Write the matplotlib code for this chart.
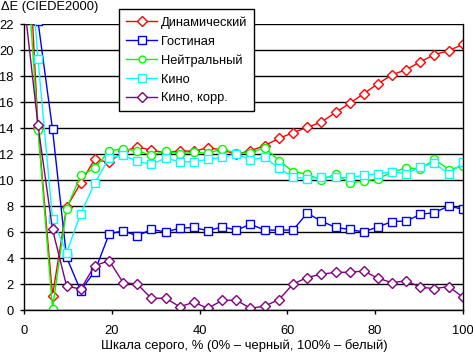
import matplotlib
matplotlib.use("Agg")
import matplotlib.pyplot as plt

plt.rcParams['font.family'] = ['Liberation Sans', 'DejaVu Sans']
plt.rcParams['font.size'] = 9.3

# grey level, %
x = [0, 3.2, 6.5, 9.7, 12.9, 16.1, 19.4, 22.6, 25.8, 29.0, 32.3, 35.5, 38.7, 41.9, 45.2, 48.4,
     51.6, 54.8, 58.1, 61.3, 64.5, 67.7, 71.0, 74.2, 77.4, 80.6, 83.9, 87.1, 90.3, 93.5, 96.8, 100]

dinam = [35, 14.0, 1.1, 7.9, 9.75, 11.6, 11.35, 12.2, 12.55, 12.3, 12.1, 12.25, 12.2, 12.5, 12.3, 12.0,
         12.25, 12.65, 13.2, 13.65, 14.05, 14.45, 15.2, 15.9, 16.65, 17.4, 18.1, 18.5, 19.1, 19.65, 19.95, 20.45]
gost = [26, 22.2, 13.9, 4.05, 1.5, 2.95, 5.85, 6.1, 5.7, 6.2, 6.0, 6.3, 6.35, 6.1, 6.4, 6.15,
        6.6, 6.15, 6.15, 6.15, 7.45, 6.85, 6.35, 6.2, 6.0, 6.4, 6.8, 6.85, 7.35, 7.5, 8.0, 7.75]
neutr = [30, 13.85, 0.1, 7.8, 10.35, 10.9, 12.25, 12.4, 12.25, 11.9, 12.25, 12.0, 12.15, 12.05, 12.4, 12.05,
         12.1, 12.5, 11.5, 10.65, 10.45, 10.0, 10.45, 9.8, 9.9, 10.1, 10.6, 10.95, 10.85, 11.6, 10.8, 11.05]
kino = [33, 19.3, 7.0, 4.4, 7.4, 9.75, 11.7, 11.9, 11.45, 11.2, 11.7, 11.4, 11.4, 11.6, 11.75, 12.0,
        11.55, 11.75, 10.9, 10.25, 10.1, 10.25, 10.2, 10.2, 10.35, 10.5, 10.6, 10.5, 11.0, 11.3, 10.45, 11.35]
kino_korr = [23.8, 14.2, 6.2, 1.85, 1.6, 3.4, 3.8, 2.1, 2.0, 0.9, 0.9, 0.25, 0.6, 0.13, 0.75, 0.75,
             0.13, 0.3, 0.8, 2.0, 2.5, 2.75, 2.9, 2.9, 3.0, 2.45, 2.1, 2.25, 1.75, 1.65, 1.8, 0.98]

series = [
    ("Динамический", dinam, "#ff0000", "D", 5.5),
    ("Гостиная", gost, "#0000ff", "s", 6.0),
    ("Нейтральный", neutr, "#00ff00", "o", 5.8),
    ("Кино", kino, "#00ffff", "s", 6.0),
    ("Кино, корр.", kino_korr, "#800080", "D", 5.5),
]

fig = plt.figure(figsize=(4.73, 3.53), dpi=100)
ax = fig.add_axes([0.0507, 0.1218, 0.928, 0.81])

for label, vals, col, mk, ms in series:
    ax.plot(x, vals, color=col, lw=1, marker=mk, ms=ms, mfc="white", mec=col, mew=1, label=label)

ax.set_xlim(0, 100)
ax.set_ylim(0, 22)
ax.set_xticks(range(0, 101, 20))
ax.set_yticks(range(0, 23, 2))
ax.yaxis.grid(True, color="black", lw=1)
ax.set_axisbelow(True)
ax.spines['top'].set_visible(False)
for s in ['left', 'bottom', 'right']:
    ax.spines[s].set_linewidth(1)
ax.tick_params(axis='both', length=3, width=1, labelsize=9.3)
ax.tick_params(axis='x', pad=8)
ax.tick_params(axis='y', pad=4.5)

leg = fig.legend(loc="upper left", bbox_to_anchor=(0.2516, 0.9737), borderaxespad=0,
                 fancybox=False, edgecolor="black", framealpha=1, handlelength=2.4,
                 handletextpad=0.3, labelspacing=0.52, borderpad=0.55, fontsize=9.3,
                 markerscale=0.85)
leg.get_frame().set_linewidth(1)

fig.text(0.002, 0.997, "ΔE (CIEDE2000)", ha="left", va="top", fontsize=9.3)
fig.text(0.516, 0.022, "Шкала серого, % (0% – черный, 100% – белый)", ha="center", va="center", fontsize=9.4)

fig.savefig("out.png", dpi=100)
